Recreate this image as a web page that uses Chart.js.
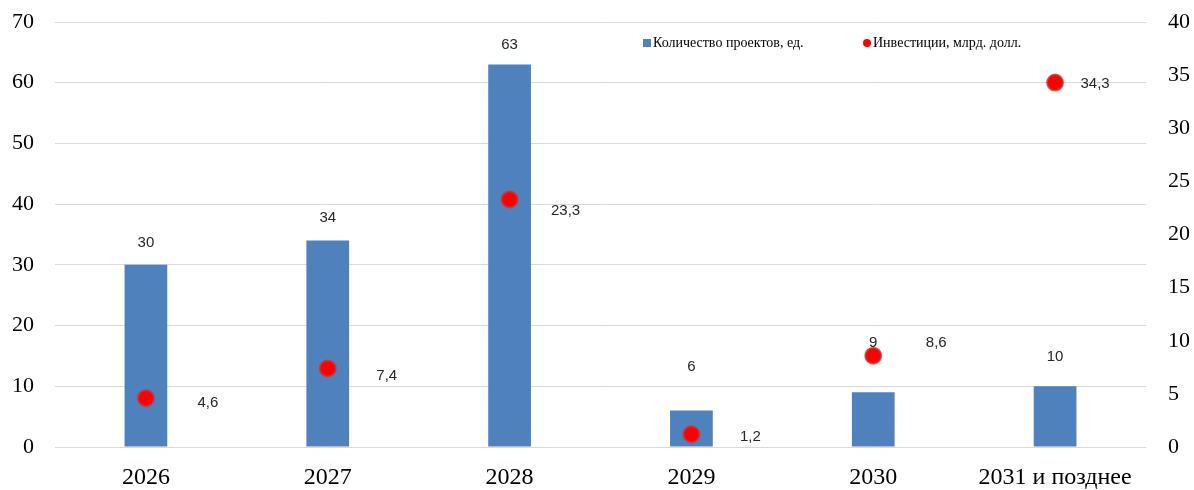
<!DOCTYPE html>
<html>
<head>
<meta charset="utf-8">
<script src="https://cdn.jsdelivr.net/npm/chart.js@4"></script>
<style>
  html, body { margin: 0; padding: 0; background: #fff; }
  #wrap { width: 1194px; height: 490px; }
</style>
</head>
<body>
<div id="wrap"><canvas id="chart"></canvas></div>
<script>
var categories = ['2026', '2027', '2028', '2029', '2030', '2031 и позднее'];
var projectCounts = [30, 34, 63, 6, 9, 10];
var investments = [4.6, 7.4, 23.3, 1.2, 8.6, 34.3];
var leftTicks = [0, 10, 20, 30, 40, 50, 60, 70];
var rightTicks = [0, 5, 10, 15, 20, 25, 30, 35, 40];

// label nudges, roughly as excel placed them
var barLabelDy = [22, 23, 20, 44, 49, 29];
var pointLabelDx = [62, 59, 56, 59, 63, 40];
var pointLabelDy = [5, 7, 11, 3, -13, 1];

var SERIF = '"Liberation Serif", "Times New Roman", serif';
var SANS = '"Liberation Sans", Arial, sans-serif';
var BLUE = '#4F81BD';
var RED = '#FF0000';

var fmt = function (v) {
    return String(v).replace('.', ',');
};

var labelsPlugin = {
    id: 'valueLabels',
    afterDatasetsDraw: function (chart) {
        var ctx = chart.ctx;
        ctx.save();
        ctx.fillStyle = '#262626';
        ctx.textAlign = 'center';
        ctx.textBaseline = 'middle';
        ctx.font = '15px ' + SANS;
        chart.getDatasetMeta(0).data.forEach(function (bar, i) {
            ctx.fillText(fmt(projectCounts[i]), bar.x, bar.y - barLabelDy[i]);
        });
        chart.getDatasetMeta(1).data.forEach(function (pt, i) {
            ctx.fillText(fmt(investments[i]), pt.x + pointLabelDx[i], pt.y + pointLabelDy[i]);
        });
        ctx.restore();
    }
};

var legendPlugin = {
    id: 'floatLegend',
    afterDraw: function (chart) {
        var ctx = chart.ctx;
        ctx.save();
        ctx.font = '14px ' + SERIF;
        ctx.textBaseline = 'middle';
        ctx.textAlign = 'left';
        var y = 43;
        ctx.fillStyle = BLUE;
        ctx.fillRect(643, y - 4, 8, 8);
        ctx.fillStyle = '#000';
        ctx.fillText(chart.data.datasets[0].label, 653, y);
        ctx.fillStyle = RED;
        ctx.beginPath();
        ctx.arc(867, y, 4, 0, Math.PI * 2);
        ctx.fill();
        ctx.fillStyle = '#000';
        ctx.fillText(chart.data.datasets[1].label, 873, y);
        ctx.restore();
    }
};

// keep the plot box fixed: no extra room for tick labels
var fixY = function (w) {
    return function (s) {
        s.width = w;
        s.paddingTop = 0;
        s.paddingBottom = 0;
    };
};

new Chart(document.getElementById('chart'), {
    data: {
        labels: categories,
        datasets: [{
            type: 'bar',
            label: 'Количество проектов, ед.',
            data: projectCounts,
            backgroundColor: BLUE,
            yAxisID: 'y',
            barPercentage: 0.47,
            categoryPercentage: 0.5,
            order: 2
        }, {
            type: 'line',
            label: 'Инвестиции, млрд. долл.',
            data: investments,
            showLine: false,
            pointRadius: 8,
            pointBackgroundColor: RED,
            pointBorderColor: 'rgba(205, 50, 50, 0.75)',
            pointBorderWidth: 2,
            yAxisID: 'y1',
            order: 1
        }]
    },
    options: {
        responsive: true,
        maintainAspectRatio: false,
        animation: false,
        layout: { padding: { top: 22, right: 0, left: 0, bottom: 0 } },
        plugins: {
            legend: { display: false },
            tooltip: { enabled: false }
        },
        scales: {
            x: {
                grid: { display: false },
                border: { display: false },
                ticks: {
                    font: { family: SERIF, size: 24 },
                    color: '#000',
                    padding: 8
                },
                afterFit: function (s) {
                    s.height = 43;
                    s.paddingLeft = 0;
                    s.paddingRight = 0;
                }
            },
            y: {
                position: 'left',
                min: 0,
                max: 70,
                afterBuildTicks: function (s) {
                    s.ticks = leftTicks.map(function (v) { return { value: v }; });
                },
                grid: { color: '#d9d9d9', lineWidth: 1, drawTicks: false },
                border: { display: false },
                ticks: {
                    font: { family: SERIF, size: 22 },
                    color: '#000',
                    padding: 21
                },
                afterFit: fixY(55)
            },
            y1: {
                position: 'right',
                min: 0,
                max: 40,
                afterBuildTicks: function (s) {
                    s.ticks = rightTicks.map(function (v) { return { value: v }; });
                },
                grid: { display: false, drawTicks: false },
                border: { display: false },
                ticks: {
                    font: { family: SERIF, size: 22 },
                    color: '#000',
                    padding: 22
                },
                afterFit: fixY(48)
            }
        }
    },
    plugins: [labelsPlugin, legendPlugin]
});
</script>
</body>
</html>
